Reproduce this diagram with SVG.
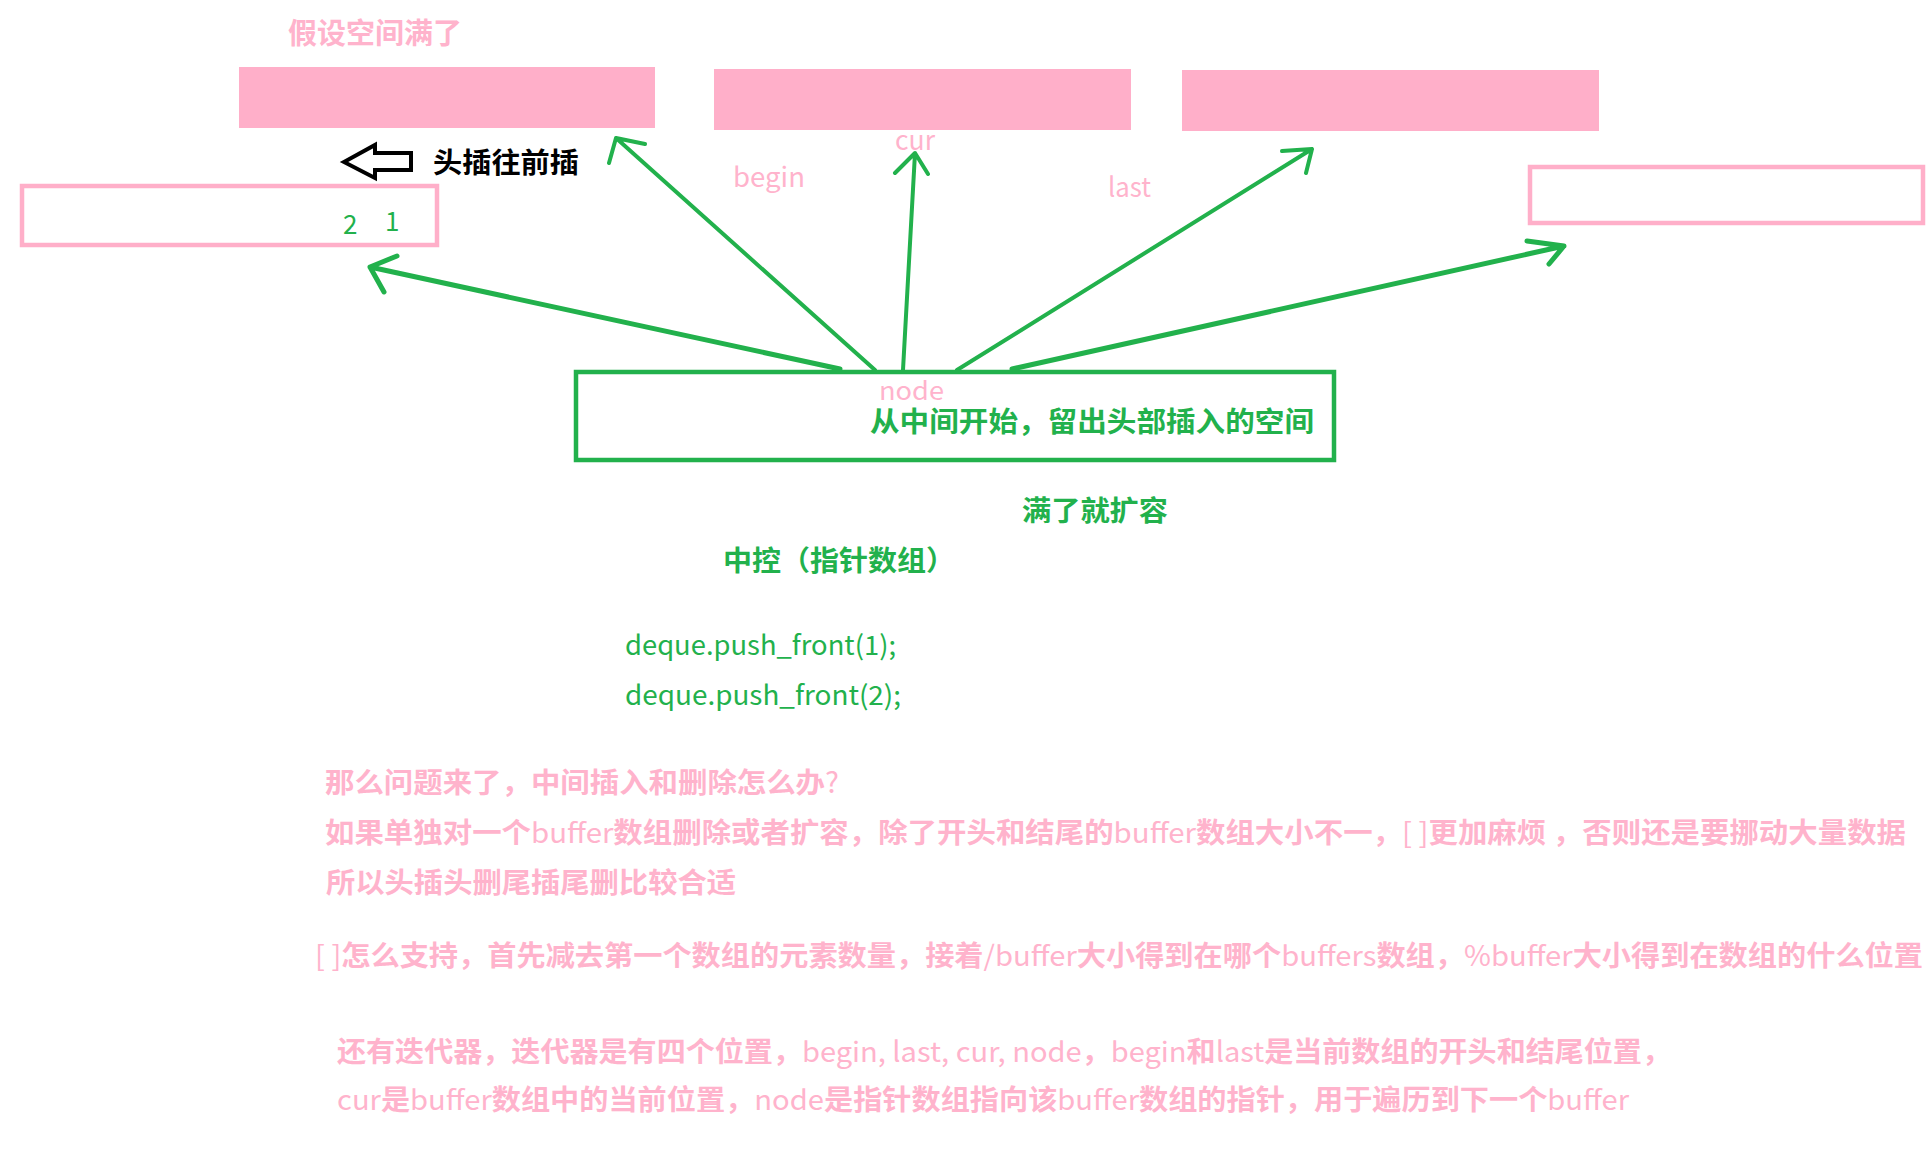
<svg xmlns="http://www.w3.org/2000/svg" width="1931" height="1154" viewBox="0 0 1931 1154">
<style>
.buf{fill:#FFAFC9;}
.bufo{fill:none;stroke:#FFAFC9;stroke-width:4.5;}
.ctrl{fill:none;stroke:#22B14C;stroke-width:4.5;}
.con{fill:none;stroke:#22B14C;stroke-width:4;stroke-linecap:round;stroke-linejoin:round;}
.thick{stroke-width:5;}
.t{font-family:"Noto Sans CJK SC","Noto Sans",sans-serif;}
.b{font-weight:700;}
.r{font-weight:400;}
.pk{fill:#FFB3CC;}
.gr{fill:#22B14C;}
.bk{fill:#000;}
</style>
<rect width="1931" height="1154" fill="#fff"/>
<g id="title"><text class="t b pk" x="288" y="44" font-size="29" textLength="174" lengthAdjust="spacingAndGlyphs">假设空间满了</text></g>
<g id="buffer1"><rect class="buf" x="239" y="67" width="416" height="61"/></g>
<g id="buffer2"><rect class="buf" x="714" y="69" width="417" height="61"/></g>
<g id="buffer3"><rect class="buf" x="1182" y="70" width="417" height="61"/></g>
<g id="buffer-left"><rect class="bufo" x="22" y="186" width="415" height="59"/>
<text class="t r gr" x="343" y="234" font-size="26">2</text>
<text class="t r gr" x="385" y="231" font-size="26">1</text></g>
<g id="buffer-right"><rect class="bufo" x="1530" y="167" width="393" height="56"/></g>
<g id="head-insert"><polygon points="344,162 375,145 375,153 411,153 411,170 375,170 375,178" fill="none" stroke="#000" stroke-width="4" stroke-linejoin="miter"/>
<text class="t b bk" x="433" y="173" font-size="28" textLength="146" lengthAdjust="spacingAndGlyphs">头插往前插</text></g>
<g id="labels">
<text class="t r pk" x="733" y="187" font-size="27" textLength="72" lengthAdjust="spacingAndGlyphs">begin</text>
<text class="t r pk" x="895" y="150" font-size="27" textLength="40" lengthAdjust="spacingAndGlyphs">cur</text>
<text class="t r pk" x="1108" y="197" font-size="27" textLength="43" lengthAdjust="spacingAndGlyphs">last</text>
</g>
<g id="connectors">
<path class="con thick" d="M840,369 L370,267 M397,256 L370,267 L384,292"/>
<path class="con" d="M875,370 L616,138 M645,144 L616,138 L609,163"/>
<path class="con" d="M903,370 L915,153 M895,173 L915,153 L928,174"/>
<path class="con" d="M957,370 L1312,149 M1282,151 L1312,149 L1306,173"/>
<path class="con thick" d="M1012,369 L1564,246 M1527,241 L1564,246 L1549,264"/>
</g>
<g id="control">
<rect class="ctrl" x="576" y="372" width="758" height="88"/>
<text class="t r pk" x="879" y="400" font-size="25" textLength="65" lengthAdjust="spacingAndGlyphs">node</text>
<text class="t b gr" x="870" y="432" font-size="28" textLength="444" lengthAdjust="spacingAndGlyphs">从中间开始，留出头部插入的空间</text>
</g>
<g id="notes-green">
<text class="t b gr" x="1022" y="521" font-size="28" textLength="146" lengthAdjust="spacingAndGlyphs">满了就扩容</text>
<text class="t b gr" x="723" y="571" font-size="28" textLength="232" lengthAdjust="spacingAndGlyphs">中控（指针数组）</text>
<text class="t r gr" x="625" y="655" font-size="27" textLength="271" lengthAdjust="spacingAndGlyphs">deque.push_front(1);</text>
<text class="t r gr" x="625" y="705" font-size="27" textLength="276" lengthAdjust="spacingAndGlyphs">deque.push_front(2);</text>
</g>
<g id="notes-pink">
<text class="t b pk" x="325" y="793" font-size="28" textLength="514" lengthAdjust="spacingAndGlyphs">那么问题来了，中间插入和删除怎么办<tspan class="r">?</tspan></text>
<text class="t b pk" x="325" y="843" font-size="28" textLength="1581" lengthAdjust="spacingAndGlyphs">如果单独对一个<tspan class="r">buffer</tspan>数组删除或者扩容，除了开头和结尾的<tspan class="r">buffer</tspan>数组大小不一，<tspan class="r">[ ]</tspan>更加麻烦 ，否则还是要挪动大量数据</text>
<text class="t b pk" x="326" y="893" font-size="28" textLength="410" lengthAdjust="spacingAndGlyphs">所以头插头删尾插尾删比较合适</text>
<text class="t b pk" x="315" y="966" font-size="28" textLength="1608" lengthAdjust="spacingAndGlyphs"><tspan class="r">[ ]</tspan>怎么支持，首先减去第一个数组的元素数量，接着<tspan class="r">/buffer</tspan>大小得到在哪个<tspan class="r">buffers</tspan>数组，<tspan class="r">%buffer</tspan>大小得到在数组的什么位置</text>
<text class="t b pk" x="337" y="1062" font-size="28" textLength="1334" lengthAdjust="spacingAndGlyphs">还有迭代器，迭代器是有四个位置，<tspan class="r">begin, last, cur, node</tspan>，<tspan class="r">begin</tspan>和<tspan class="r">last</tspan>是当前数组的开头和结尾位置，</text>
<text class="t b pk" x="337" y="1110" font-size="28" textLength="1292" lengthAdjust="spacingAndGlyphs"><tspan class="r">cur</tspan>是<tspan class="r">buffer</tspan>数组中的当前位置，<tspan class="r">node</tspan>是指针数组指向该<tspan class="r">buffer</tspan>数组的指针，用于遍历到下一个<tspan class="r">buffer</tspan></text>
</g>
</svg>
